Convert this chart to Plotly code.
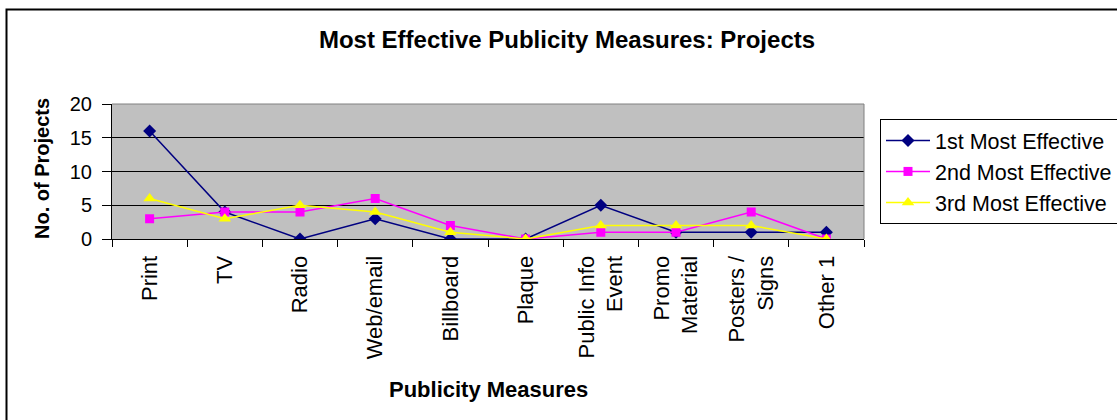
import plotly.graph_objects as go

# Publicity measures surveyed and how many projects rated each as most effective
categories = ["Print", "TV", "Radio", "Web/email", "Billboard", "Plaque",
              "Public Info<br>Event", "Promo<br>Material", "Posters /<br>Signs", "Other 1"]
first_most = [16, 4, 0, 3, 0, 0, 5, 1, 1, 1]
second_most = [3, 4, 4, 6, 2, 0, 1, 1, 4, 0]
third_most = [6, 3, 5, 4, 1, 0, 2, 2, 2, 0]
y_ticks = [0, 5, 10, 15, 20]

FONT = "Liberation Sans, Arial, sans-serif"

fig = go.Figure()
series = [
    ("1st Most Effective", first_most, "#000080", "diamond", 10),
    ("2nd Most Effective", second_most, "#FF00FF", "square", 9),
    ("3rd Most Effective", third_most, "#FFFF00", "triangle-up", 11),
]
for name, vals, color, symbol, size in series:
    fig.add_trace(go.Scatter(
        x=categories, y=vals, name=name, mode="lines+markers",
        line=dict(color=color, width=1.5),
        marker=dict(symbol=symbol, size=size, color=color, line=dict(width=0)),
    ))

# plot area in pixels: x 112..864, y 104..239
L, R, T, B = 112, 253, 104, 181
W, H = 1117, 420
pw, ph = W - L - R, H - T - B

def px_x(px):
    return (px - L) / pw

def px_y(py):
    return (H - B - py) / ph

fig.update_layout(
    width=W, height=H,
    margin=dict(l=L, r=R, t=T, b=B, pad=0, autoexpand=False),
    paper_bgcolor="white",
    plot_bgcolor="#C0C0C0",
    font=dict(family=FONT, color="black", size=20),
    title=dict(text="<b>Most Effective Publicity Measures: Projects</b>",
               x=567 / W, xanchor="center",
               y=1 - 40 / H, yanchor="middle",
               font=dict(size=24, family=FONT)),
    showlegend=True,
    legend=dict(
        xref="container", yref="container",
        x=880 / W, y=1 - 119 / H, xanchor="left", yanchor="top",
        bordercolor="black", borderwidth=1, bgcolor="white",
        font=dict(size=21.5, family=FONT),
        itemwidth=44, tracegroupgap=0,
    ),
    xaxis=dict(
        type="category",
        tickson="boundaries",
        ticks="outside", ticklen=7, tickcolor="black",
        tickangle=-90,
        tickfont=dict(size=22),
        ticklabelstandoff=7,
        showline=True, linecolor="black", linewidth=1,
        showgrid=False, zeroline=False,
        range=[-0.5, 9.5],
        automargin=False,
    ),
    yaxis=dict(
        range=[0, 20], tickvals=y_ticks,
        ticks="outside", ticklen=9, tickcolor="black",
        tickfont=dict(size=20),
        ticklabelstandoff=6,
        showline=True, linecolor="black", linewidth=1,
        showgrid=True, gridcolor="black", gridwidth=1,
        zeroline=False,
        automargin=False,
    ),
    annotations=[
        dict(text="<b>Publicity Measures</b>", xref="paper", yref="paper",
             x=px_x(488), y=px_y(389), xanchor="center", yanchor="middle",
             showarrow=False, font=dict(size=22, family=FONT)),
        dict(text="<b>No. of Projects</b>", xref="paper", yref="paper",
             x=px_x(42), y=px_y(169), xanchor="center", yanchor="middle",
             textangle=-90, showarrow=False, font=dict(size=20, family=FONT)),
    ],
)

# gray frame on top and right of the plot area
fig.add_shape(type="line", xref="paper", yref="paper", x0=0, x1=1, y0=1, y1=1,
              line=dict(color="#808080", width=1))
fig.add_shape(type="line", xref="paper", yref="paper", x0=1, x1=1, y0=0, y1=1,
              line=dict(color="#808080", width=1))

# chart-area border
fig.add_shape(type="rect", xref="paper", yref="paper",
              x0=px_x(6.5), x1=px_x(1130), y0=px_y(430), y1=px_y(9.5),
              line=dict(color="black", width=2), layer="below")

fig.write_html("out.html")
